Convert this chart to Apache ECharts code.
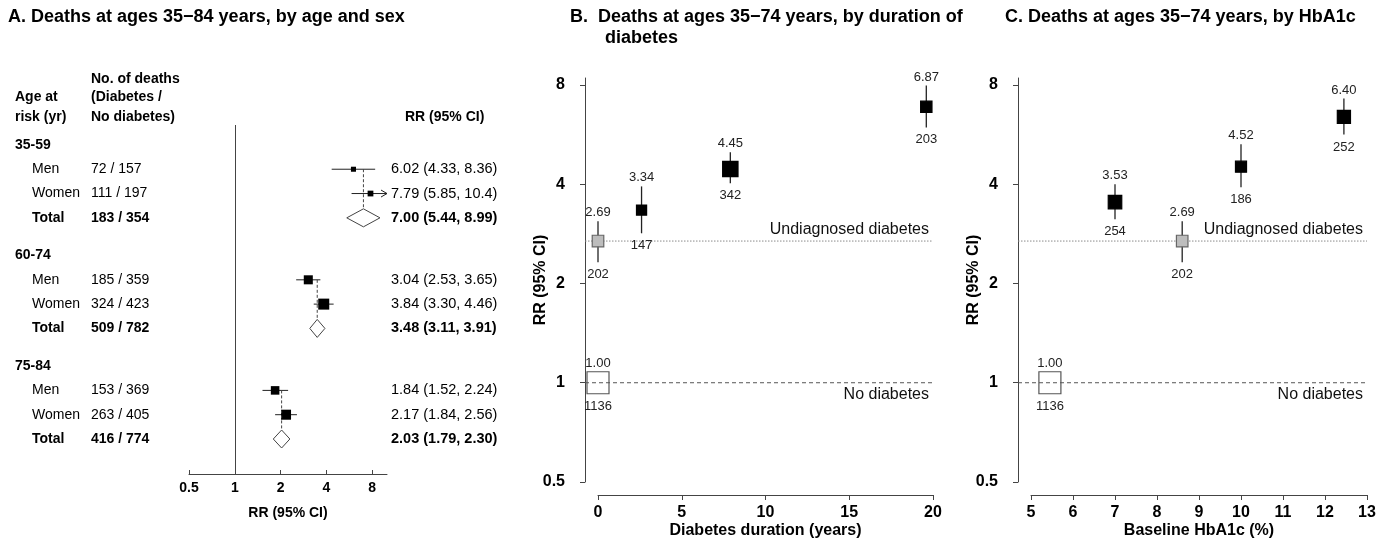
<!DOCTYPE html>
<html>
<head>
<meta charset="utf-8">
<script src="https://cdn.jsdelivr.net/npm/echarts@6/dist/echarts.min.js"></script>
<style>
  body { margin: 0; background: #fff; }
  #chart { width: 1384px; height: 540px; }
</style>
</head>
<body>
<div id="chart"></div>
<script>
// ---- data: panel A (by age and sex) ----
const ageGroups = ["35-59", "60-74", "75-84"];
const sexes = ["Men", "Women", "Total"];
const deathsDiab = [72, 111, 183, 185, 324, 509, 153, 263, 416];
const deathsNoDiab = [157, 197, 354, 359, 423, 782, 369, 405, 774];
const rrA = [6.02, 7.79, 7.00, 3.04, 3.84, 3.48, 1.84, 2.17, 2.03];
const loA = [4.33, 5.85, 5.44, 2.53, 3.30, 3.11, 1.52, 1.84, 1.79];
const hiA = [8.36, 10.4, 8.99, 3.65, 4.46, 3.91, 2.24, 2.56, 2.30];
const rrTicks = [0.5, 1, 2, 4, 8];

// ---- data: panel B (by duration of diabetes) ----
const groupKind = ["ref", "undiag", "diab", "diab", "diab"];
const refNames = ["No diabetes", "Undiagnosed diabetes"];
const durationYears = [0, 0, 2.6, 7.9, 19.6];
const rrB = [1.00, 2.69, 3.34, 4.45, 6.87];
const loB = [1.00, 2.32, 2.84, 4.03, 5.95];
const hiB = [1.00, 3.09, 3.94, 5.00, 7.97];
const deathsB = [1136, 202, 147, 342, 203];

// ---- data: panel C (by HbA1c) ----
const hba1c = [5.45, 8.6, 7.0, 10.0, 12.45];
const rrC = [1.00, 2.69, 3.53, 4.52, 6.40];
const loC = [1.00, 2.32, 3.13, 3.92, 5.66];
const hiC = [1.00, 3.09, 4.00, 5.29, 7.28];
const deathsC = [1136, 202, 254, 186, 252];

const FONT = "Liberation Sans, Arial, sans-serif";
const A_MAX = 10;
const BOX_K = 0.845; // square side (px) = BOX_K / se

const rowPos = (k) => Math.floor(k / 3) * 4.55 + (k % 3) + 1;
const boxSize = (lo, hi) => BOX_K / ((Math.log(hi) - Math.log(lo)) / 3.92);

function txt(x, y, text, opt) {
  return {
    type: "text", x: x, y: y, silent: true,
    style: Object.assign({
      text: text, fill: "#000", fontFamily: FONT, fontSize: 14,
      align: "left", verticalAlign: "middle"
    }, opt || {})
  };
}

// forest rows of panel A
function renderForest(params, api) {
  const k = api.value(2);
  const g = Math.floor(k / 3), s = k % 3;
  const row = rowPos(k);
  const p = api.coord([rrA[k], row]);
  const l = api.coord([loA[k], row]);
  const h = api.coord([Math.min(hiA[k], A_MAX), row]);
  const y = p[1];
  const bold = s === 2 ? "bold" : "normal";
  const kids = [];
  if (s < 2) {
    kids.push({ type: "line", shape: { x1: l[0], y1: y, x2: h[0], y2: y },
      style: { stroke: "#222", lineWidth: 1 } });
    if (hiA[k] > A_MAX) {
      kids.push({ type: "polyline", shape: { points: [[h[0] - 6, y - 3.5], [h[0], y], [h[0] - 6, y + 3.5]] },
        style: { stroke: "#222", fill: null, lineWidth: 1 } });
    }
    const sz = boxSize(loA[k], hiA[k]);
    kids.push({ type: "rect", shape: { x: p[0] - sz / 2, y: y - sz / 2, width: sz, height: sz },
      style: { fill: "#000" } });
  } else {
    const menY = api.coord([1, rowPos(k - 2)])[1];
    kids.push({ type: "line", shape: { x1: p[0], y1: menY, x2: p[0], y2: y - 9 },
      style: { stroke: "#444", lineWidth: 1, lineDash: [3, 2] } });
    kids.push({ type: "polygon", shape: { points: [[l[0], y], [p[0], y - 9], [h[0], y], [p[0], y + 9]] },
      style: { fill: "#fff", stroke: "#444", lineWidth: 1 } });
  }
  if (s === 0) {
    const hy = api.coord([1, g * 4.55])[1];
    kids.push(txt(15, hy, ageGroups[g], { fontWeight: "bold" }));
  }
  kids.push(txt(32, y, sexes[s], { fontWeight: bold }));
  kids.push(txt(91, y, deathsDiab[k] + " / " + deathsNoDiab[k], { fontWeight: bold }));
  const ci = rrA[k].toFixed(2) + " (" + loA[k].toFixed(2) + ", " +
    (hiA[k] >= 10 ? hiA[k].toFixed(1) : hiA[k].toFixed(2)) + ")";
  kids.push(txt(391, y, ci, { fontWeight: bold, fontSize: 14.5 }));
  return { type: "group", children: kids };
}

// estimate points of panels B and C
function makePointRenderer(xs, rr, lo, hi, deaths) {
  return function (params, api) {
    const k = api.value(2);
    const c = api.coord([xs[k], rr[k]]);
    const top = api.coord([xs[k], hi[k]])[1];
    const bot = api.coord([xs[k], lo[k]])[1];
    const kind = groupKind[k];
    const sz = kind === "ref" ? 22 : boxSize(lo[k], hi[k]);
    const kids = [];
    if (kind !== "ref") {
      kids.push({ type: "line", shape: { x1: c[0], y1: top, x2: c[0], y2: bot },
        style: { stroke: "#222", lineWidth: 1.3 } });
    }
    const fill = kind === "ref" ? null : (kind === "undiag" ? "#bdbdbd" : "#000");
    const stroke = kind === "ref" ? "#555" : (kind === "undiag" ? "#666" : "#000");
    kids.push({ type: "rect", shape: { x: c[0] - sz / 2, y: c[1] - sz / 2, width: sz, height: sz },
      style: { fill: fill, stroke: stroke, lineWidth: 1.2 } });
    kids.push(txt(c[0], Math.min(top, c[1] - sz / 2) - 2, rr[k].toFixed(2),
      { fontSize: 13, align: "center", verticalAlign: "bottom", fill: "#222" }));
    kids.push(txt(c[0], Math.max(bot, c[1] + sz / 2) + 6, String(deaths[k]),
      { fontSize: 13, align: "center", verticalAlign: "top", fill: "#222" }));
    return { type: "group", children: kids };
  };
}

// horizontal reference lines (undiagnosed / no diabetes)
function makeRefRenderer(xmin, rr) {
  return function (params, api) {
    const k = api.value(1);
    const cs = params.coordSys;
    const y = api.coord([xmin, rr[k]])[1];
    const x0 = cs.x - 13, x1 = cs.x + cs.width;
    const undiag = groupKind[k] === "undiag";
    return { type: "group", children: [
      { type: "line", shape: { x1: x0, y1: y, x2: x1, y2: y },
        style: { stroke: undiag ? "#8a8a8a" : "#555", lineWidth: 1, lineDash: undiag ? [1.5, 1.5] : [4, 3] } },
      txt(x1 - 4, undiag ? y - 3 : y + 4, refNames[k],
        { fontSize: 16, align: "right", verticalAlign: undiag ? "bottom" : "top", fill: "#111" })
    ] };
  };
}

const logLabelFmt = (v) => String(Math.round(v * 100) / 100);

function rrAxis(gridIndex) {
  return {
    type: "log", logBase: 2, gridIndex: gridIndex, min: 0.5, max: 8.4, offset: 13,
    name: "RR (95% CI)", nameLocation: "middle", nameGap: 36, nameMoveOverlap: false,
    nameTextStyle: { fontFamily: FONT, fontSize: 16, fontWeight: "bold", color: "#000" },
    axisLine: { show: true, onZero: false, lineStyle: { color: "#444" } },
    axisTick: { show: true, length: 5, lineStyle: { color: "#444" }, customValues: rrTicks },
    axisLabel: { fontFamily: FONT, fontSize: 16, fontWeight: "bold", color: "#000", margin: 20,
      customValues: rrTicks, formatter: logLabelFmt },
    splitLine: { show: false }
  };
}

function valueXAxis(gridIndex, min, max, interval, name) {
  return {
    type: "value", gridIndex: gridIndex, min: min, max: max, interval: interval, offset: 13,
    name: name, nameLocation: "middle", nameGap: 28, nameMoveOverlap: false,
    nameTextStyle: { fontFamily: FONT, fontSize: 16, fontWeight: "bold", color: "#000" },
    axisLine: { show: true, onZero: false, lineStyle: { color: "#444" } },
    axisTick: { show: true, length: 5, lineStyle: { color: "#444" } },
    axisLabel: { fontFamily: FONT, fontSize: 16, fontWeight: "bold", color: "#000", margin: 10 },
    splitLine: { show: false }
  };
}

const idx = (arr) => arr.map((v, k) => k);

const option = {
  animation: false,
  backgroundColor: "#fff",
  grid: [
    { left: 189, width: 198, top: 125, bottom: 66, outerBoundsMode: "none" },
    { left: 598, width: 335, top: 78, bottom: 58, outerBoundsMode: "none" },
    { left: 1031, width: 336, top: 78, bottom: 58, outerBoundsMode: "none" }
  ],
  xAxis: [
    {
      type: "log", logBase: 2, gridIndex: 0, min: 0.5, max: A_MAX,
      name: "RR (95% CI)", nameLocation: "middle", nameGap: 32, nameMoveOverlap: false,
      nameTextStyle: { fontFamily: FONT, fontSize: 14, fontWeight: "bold", color: "#000" },
      axisLine: { show: true, onZero: false, lineStyle: { color: "#444" } },
      axisTick: { show: true, inside: true, length: 4, lineStyle: { color: "#444" }, customValues: rrTicks },
      axisLabel: { fontFamily: FONT, fontSize: 14, fontWeight: "bold", color: "#000", margin: 7,
        customValues: rrTicks, formatter: logLabelFmt },
      splitLine: { show: false }
    },
    valueXAxis(1, 0, 20, 5, "Diabetes duration (years)"),
    valueXAxis(2, 5, 13, 1, "Baseline HbA1c (%)")
  ],
  yAxis: [
    { type: "value", gridIndex: 0, min: -0.82, max: 13.54, inverse: true, show: false },
    rrAxis(1),
    rrAxis(2)
  ],
  graphic: [
    txt(8, 17, "A. Deaths at ages 35\u221284 years, by age and sex", { fontSize: 18, fontWeight: "bold" }),
    txt(570, 17, "B.  Deaths at ages 35\u221274 years, by duration of", { fontSize: 18, fontWeight: "bold" }),
    txt(605, 38, "diabetes", { fontSize: 18, fontWeight: "bold" }),
    txt(1005, 17, "C. Deaths at ages 35\u221274 years, by HbA1c", { fontSize: 18, fontWeight: "bold" }),
    txt(15, 97, "Age at", { fontWeight: "bold" }),
    txt(15, 117, "risk (yr)", { fontWeight: "bold" }),
    txt(91, 79, "No. of deaths", { fontWeight: "bold" }),
    txt(91, 97, "(Diabetes /", { fontWeight: "bold" }),
    txt(91, 117, "No diabetes)", { fontWeight: "bold" }),
    txt(405, 117, "RR (95% CI)", { fontWeight: "bold" })
  ],
  series: [
    {
      type: "custom", xAxisIndex: 0, yAxisIndex: 0,
      data: rrA.map((v, k) => [v, rowPos(k), k]),
      renderItem: renderForest,
      markLine: {
        silent: true, symbol: "none", label: { show: false },
        lineStyle: { type: "solid", color: "#444", width: 1 },
        data: [{ xAxis: 1 }]
      }
    },
    {
      type: "custom", xAxisIndex: 1, yAxisIndex: 1,
      data: [[0, 0], [0, 1]],
      encode: { x: 0, y: -1 },
      renderItem: makeRefRenderer(0, rrB)
    },
    {
      type: "custom", xAxisIndex: 1, yAxisIndex: 1,
      data: idx(rrB).map((k) => [durationYears[k], rrB[k], k]),
      renderItem: makePointRenderer(durationYears, rrB, loB, hiB, deathsB)
    },
    {
      type: "custom", xAxisIndex: 2, yAxisIndex: 2,
      data: [[5, 0], [5, 1]],
      encode: { x: 0, y: -1 },
      renderItem: makeRefRenderer(5, rrC)
    },
    {
      type: "custom", xAxisIndex: 2, yAxisIndex: 2,
      data: idx(rrC).map((k) => [hba1c[k], rrC[k], k]),
      renderItem: makePointRenderer(hba1c, rrC, loC, hiC, deathsC)
    }
  ]
};

const chart = echarts.init(document.getElementById("chart"));
chart.setOption(option);
</script>
</body>
</html>
